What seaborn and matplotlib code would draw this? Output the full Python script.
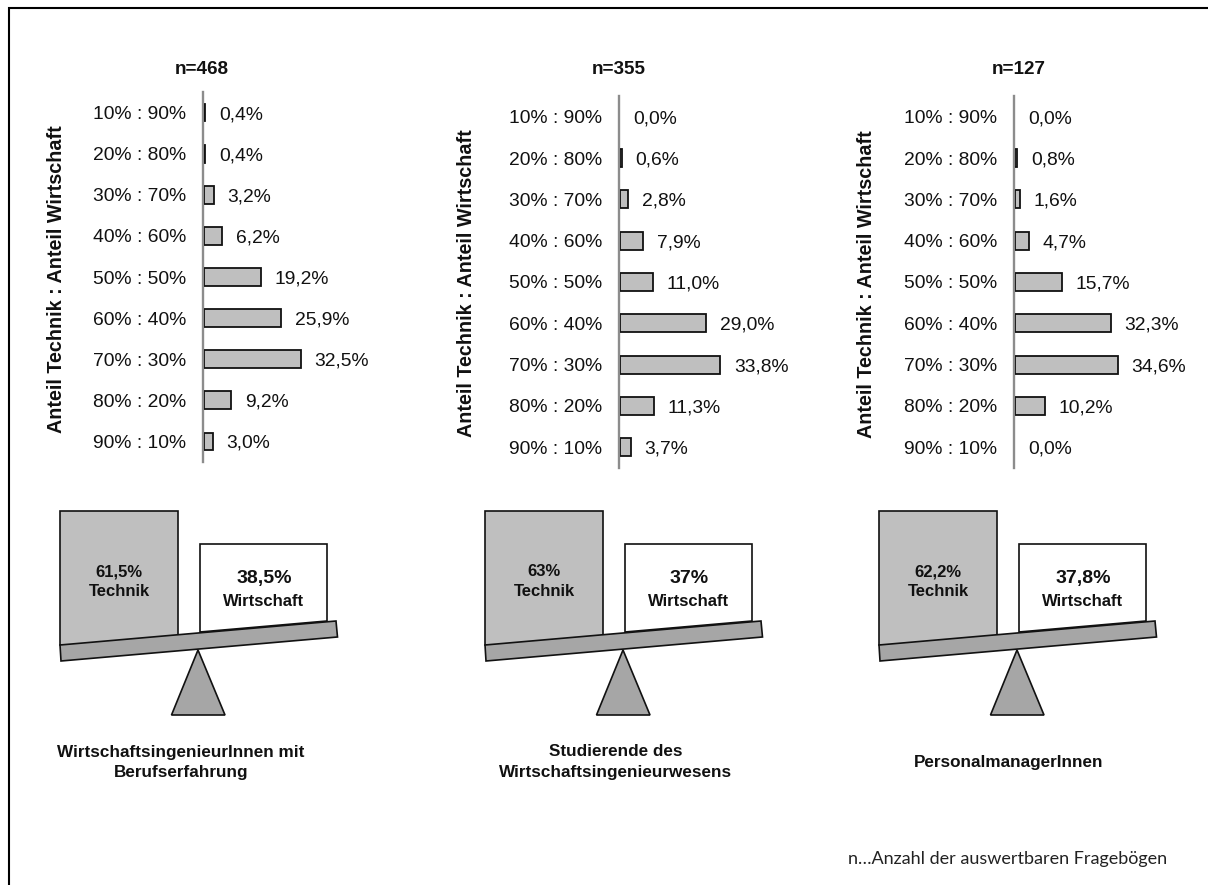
import matplotlib
matplotlib.use("Agg")
import matplotlib.pyplot as plt
from matplotlib.patches import Polygon, Rectangle
import pandas as pd
import seaborn as sns

ratios = ["10% : 90%", "20% : 80%", "30% : 70%", "40% : 60%", "50% : 50%",
          "60% : 40%", "70% : 30%", "80% : 20%", "90% : 10%"]
engineers = [0.4, 0.4, 3.2, 6.2, 19.2, 25.9, 32.5, 9.2, 3.0]
students = [0.0, 0.6, 2.8, 7.9, 11.0, 29.0, 33.8, 11.3, 3.7]
managers = [0.0, 0.8, 1.6, 4.7, 15.7, 32.3, 34.6, 10.2, 0.0]
sample_sizes = ["n=468", "n=355", "n=127"]
tech_labels = ["61,5%", "63%", "62,2%"]
econ_labels = ["38,5%", "37%", "37,8%"]
group_names = ["WirtschaftsingenieurInnen mit\nBerufserfahrung",
               "Studierende des\nWirtschaftsingenieurwesens",
               "PersonalmanagerInnen"]
y_title = "Anteil Technik : Anteil Wirtschaft"
footnote = "n…Anzahl der auswertbaren Fragebögen"

W, H = 1208, 885
GREY = "#bfbfbf"
BEAM = "#a6a6a6"
EDGE = "#111111"

sns.set_theme(style="white")
plt.rcParams["font.family"] = ["Liberation Sans", "DejaVu Sans"]

fig = plt.figure(figsize=(W / 100, H / 100), dpi=100, facecolor="white")

# Full-figure layer in pixel units for the frame, balances and captions
page = fig.add_axes([0, 0, 1, 1], zorder=0)
page.set_xlim(0, W)
page.set_ylim(H, 0)
page.axis("off")
page.plot([9, 9, W], [H, 8, 8], color="black", lw=1.5, clip_on=False,
          solid_joinstyle="miter")


def share_panel(values, title, left, top, bottom, label_x, label_y, title_x):
    """Horizontal bar panel; 148.5 px wide for the 0-50 % range."""
    ax = fig.add_axes([left / W, 1 - bottom / H, 148.5 / W, (bottom - top) / H],
                      facecolor="none", zorder=1)
    frame = pd.DataFrame({"ratio": ratios, "share": values})
    sns.barplot(data=frame, y="ratio", x="share", order=ratios, color=GREY,
                saturation=1, width=0.43, edgecolor=EDGE, linewidth=1.3, ax=ax)
    ax.set_xlim(0, 50)
    ax.set_xlabel("")
    ax.set_ylabel("")
    ax.set_xticks([])
    ax.tick_params(axis="y", length=0, pad=12, labelsize=13.9, labelcolor="#111111")
    for side in ("top", "right", "bottom"):
        ax.spines[side].set_visible(False)
    ax.spines["left"].set_color("#8c8c8c")
    ax.spines["left"].set_linewidth(1.7)
    ax.spines["left"].set_position(("outward", 0.8))
    for bar, value in zip(ax.containers[0], values):
        bar.set_zorder(3)
        # an empty class leaves no outline on the axis
        bar.set_visible(value > 0)
    texts = ax.bar_label(ax.containers[0],
                         labels=[f"{v:.1f}%".replace(".", ",") for v in values],
                         padding=9.8, fontsize=13.9, color="#111111")
    for text in texts:
        text.set_verticalalignment("center_baseline")
    page.text(label_x, label_y, y_title, rotation=90, ha="center",
              va="center", fontsize=14.2, fontweight="bold", color="#111111")
    page.text(title_x, 69.5, title, ha="center", va="center", fontsize=13.6,
              fontweight="bold", color="#111111")
    return ax


def balance(dx, tech, econ, name, name_x):
    """Tilted balance with the heavier technical block on the left."""
    page.add_patch(Rectangle((60 + dx, 511), 118, 134, fc=GREY, ec=EDGE, lw=1.2, zorder=2))
    page.add_patch(Polygon([(200 + dx, 632), (200 + dx, 544), (327 + dx, 544), (327 + dx, 621)],
                           closed=True, fc="white", ec=EDGE, lw=1.2, zorder=2))
    page.add_patch(Polygon([(60 + dx, 645), (336 + dx, 621), (337.5 + dx, 637), (61 + dx, 661)],
                           closed=True, fc=BEAM, ec=EDGE, lw=1.2, zorder=3))
    page.add_patch(Polygon([(198 + dx, 650), (171.5 + dx, 715), (225 + dx, 715)],
                           closed=True, fc=BEAM, ec=EDGE, lw=1.2, zorder=3))
    for x, y, text, size in [(119, 572, tech, 12), (119, 592, "Technik", 12),
                             (264, 578.5, econ, 14), (264, 601.5, "Wirtschaft", 12)]:
        page.text(x + dx, y, text, ha="center", va="center", fontsize=size,
                  fontweight="bold", color="#111111", zorder=4)
    page.text(name_x, 762.5, name, ha="center", va="center", fontsize=12.3,
              fontweight="bold", color="#111111", linespacing=1.5)


share_panel(engineers, sample_sizes[0], 204, 92, 462, 57, 279, 202)
share_panel(students, sample_sizes[1], 620, 96, 468, 466, 283, 619)
share_panel(managers, sample_sizes[2], 1015, 96, 468, 866, 284, 1019)

balance(0, tech_labels[0], econ_labels[0], group_names[0], 181)
balance(425, tech_labels[1], econ_labels[1], group_names[1], 616)
balance(819, tech_labels[2], econ_labels[2], group_names[2], 1009)

page.text(848, 859, footnote, ha="left", va="center", fontsize=13,
          family=["Lato", "DejaVu Sans"], color="#222222")

fig.savefig("out.png", dpi=100)
